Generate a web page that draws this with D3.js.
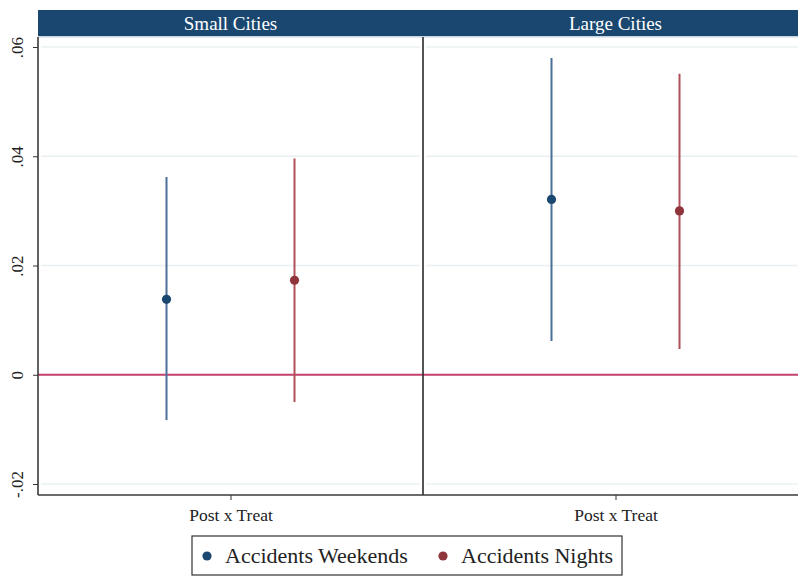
<!DOCTYPE html>
<html>
<head>
<meta charset="utf-8">
<script src="https://cdn.jsdelivr.net/npm/d3@7"></script>
<style>
  html, body { margin: 0; padding: 0; background: #fff; }
  svg { display: block; }
</style>
</head>
<body>
<svg id="chart" width="798" height="576"></svg>
<script>
// Coefficient estimates with confidence bounds, per panel
const panels = ["Small Cities", "Large Cities"];
const seriesNames = ["Accidents Weekends", "Accidents Nights"];
const seriesColors = ["#1a476f", "#90353b"];
const ciColors = ["#4b6f97", "#b0505a"];
const term = "Post x Treat";
const estimates = [
  [0.0138, 0.0173],   // Small Cities: weekends, nights
  [0.0321, 0.0300]    // Large Cities
];
const lower = [
  [-0.0083, -0.0050],
  [0.0062, 0.0047]
];
const upper = [
  [0.0362, 0.0396],
  [0.0580, 0.0551]
];
const yTicks = [-0.02, 0, 0.02, 0.04, 0.06];
const yTickLabels = ["-.02", "0", ".02", ".04", ".06"];

(function draw() {
  const FONT = "Liberation Serif";
  const svg = d3.select("#chart");
  const plotLeft = 38, plotTop = 37, plotBottom = 495, headerTop = 10;
  const panelW = 385;

  const y = d3.scaleLinear().domain([-0.02, 0.06]).range([484, 47]);
  const panelX = d3.scaleBand().domain(panels).range([plotLeft, plotLeft + panelW * 2]).paddingInner(0);
  const seriesX = d3.scalePoint().domain(seriesNames).range([-64, 64]);

  const root = svg.append("g").attr("font-family", FONT);

  panels.forEach((p, pi) => {
    const x0 = panelX(p);
    const g = root.append("g");

    // header strip
    g.append("rect").attr("x", x0).attr("y", headerTop).attr("width", panelW)
      .attr("height", plotTop - headerTop).attr("fill", "#1a476f");
    g.append("rect").attr("x", x0).attr("y", plotTop - 1).attr("width", panelW)
      .attr("height", 1.5).attr("fill", "#c7d6e2");
    g.append("text").attr("x", x0 + panelW / 2).attr("y", 29.5)
      .attr("text-anchor", "middle").attr("fill", "#fff")
      .attr("font-family", FONT).attr("font-size", 19)
      .text(p);

    // grid lines
    g.selectAll("line.grid").data(yTicks).enter().append("line")
      .attr("class", "grid")
      .attr("x1", x0 + 3).attr("x2", x0 + panelW - 3)
      .attr("y1", d => y(d)).attr("y2", d => y(d))
      .attr("stroke", "#eaf0f2").attr("stroke-width", 1.3);

    // zero reference line
    g.append("line").attr("x1", x0).attr("x2", x0 + panelW)
      .attr("y1", y(0)).attr("y2", y(0))
      .attr("stroke", "#c4426b").attr("stroke-width", 1.8);

    // x axis with one tick
    const cx = x0 + panelW / 2;
    const xa = d3.axisBottom(d3.scalePoint().domain([term]).range([cx, cx]))
      .tickSize(5).tickSizeOuter(0);
    const xg = g.append("g").attr("transform", `translate(0,${plotBottom})`).call(xa)
      .attr("font-family", FONT);
    xg.select(".domain").remove();
    xg.selectAll(".tick line").attr("stroke", "#333");
    xg.selectAll(".tick text").attr("font-family", FONT)
      .attr("font-size", 17.5).attr("fill", "#222").attr("y", 10).attr("dy", "0.9em");

    // confidence intervals and point estimates
    seriesNames.forEach((s, si) => {
      const sx = cx + seriesX(s);
      g.append("line").attr("x1", sx).attr("x2", sx)
        .attr("y1", y(lower[pi][si])).attr("y2", y(upper[pi][si]))
        .attr("stroke", ciColors[si]).attr("stroke-width", 2);
      g.append("circle").attr("cx", sx).attr("cy", y(estimates[pi][si]))
        .attr("r", 4.6).attr("fill", seriesColors[si]);
    });
  });

  // panel frame lines
  root.append("line").attr("x1", plotLeft).attr("x2", plotLeft).attr("y1", plotTop).attr("y2", plotBottom)
    .attr("stroke", "#3a3a3a").attr("stroke-width", 1.6);
  root.append("line").attr("x1", plotLeft + panelW).attr("x2", plotLeft + panelW).attr("y1", plotTop).attr("y2", plotBottom)
    .attr("stroke", "#2a2a2a").attr("stroke-width", 1.6);
  root.append("line").attr("x1", plotLeft).attr("x2", 798).attr("y1", plotBottom).attr("y2", plotBottom)
    .attr("stroke", "#3a3a3a").attr("stroke-width", 1.6);

  // y axis
  const ya = d3.axisLeft(y).tickValues(yTicks).tickFormat((d, i) => yTickLabels[i])
    .tickSize(5).tickSizeOuter(0);
  const yg = root.append("g").attr("transform", `translate(${plotLeft},0)`).call(ya)
    .attr("font-family", FONT);
  yg.select(".domain").remove();
  yg.selectAll(".tick line").attr("stroke", "#333");
  yg.selectAll(".tick text")
    .attr("font-family", FONT).attr("font-size", 17).attr("fill", "#222")
    .attr("x", null)
    .attr("text-anchor", "middle")
    .attr("transform", "translate(-21,0) rotate(-90)")
    .attr("dy", "0.35em");

  // legend
  const lg = root.append("g");
  lg.append("rect").attr("x", 192).attr("y", 536).attr("width", 430).attr("height", 39)
    .attr("fill", "#fff").attr("stroke", "#333").attr("stroke-width", 1.2);
  const legX = [207, 443];
  seriesNames.forEach((s, si) => {
    lg.append("circle").attr("cx", legX[si]).attr("cy", 556).attr("r", 4.6).attr("fill", seriesColors[si]);
    lg.append("text").attr("x", legX[si] + 18).attr("y", 563)
      .attr("font-family", FONT).attr("font-size", 22).attr("fill", "#222").text(s);
  });
})();
</script>
</body>
</html>
